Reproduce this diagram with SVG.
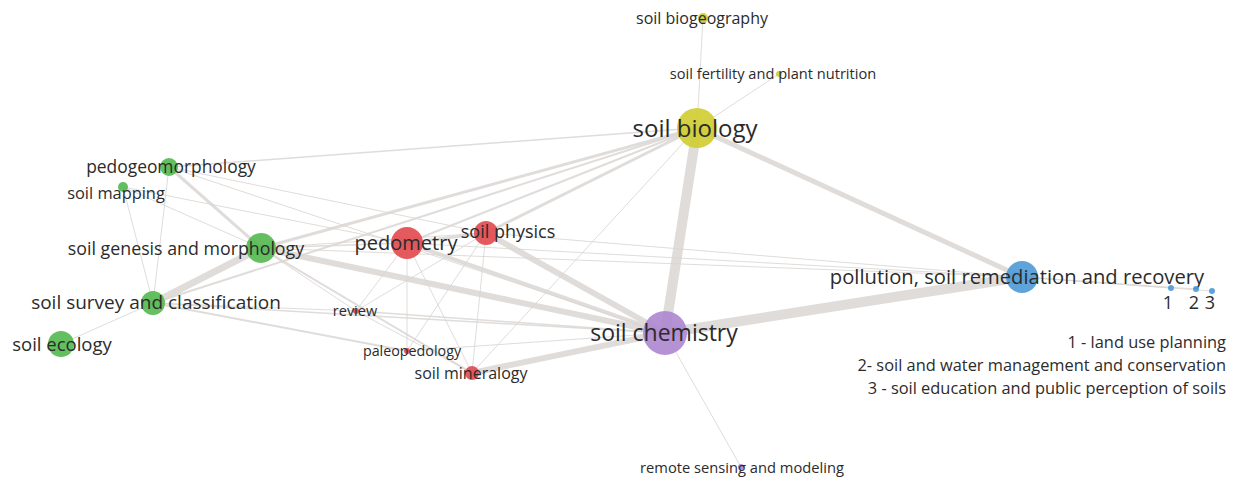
<svg xmlns="http://www.w3.org/2000/svg" width="1237" height="477" viewBox="0 0 1237 477">
<style>
text{font-family:"Open Sans","Liberation Sans",sans-serif;fill:#2b2b2b;text-anchor:middle}
.e{stroke:#d9d6d3;stroke-linecap:round;fill:none;stroke-opacity:0.85}
.g{fill:#52b84e}.r{fill:#e2484d}.y{fill:#cfcd2f}.p{fill:#ad86cf}.b{fill:#4d9ad6}
circle{fill-opacity:0.9}
.leg{text-anchor:end}
</style>
<rect width="1237" height="477" fill="#ffffff"/>
<g id="connectors">
<line class="e" x1="697" y1="128" x2="665" y2="333" stroke-width="10"/>
<line class="e" x1="665" y1="333" x2="1022" y2="277" stroke-width="10"/>
<line class="e" x1="697" y1="128" x2="1022" y2="277" stroke-width="5"/>
<line class="e" x1="261" y1="248" x2="153" y2="303" stroke-width="7"/>
<line class="e" x1="261" y1="248" x2="665" y2="333" stroke-width="6"/>
<line class="e" x1="407" y1="243" x2="665" y2="333" stroke-width="4"/>
<line class="e" x1="486" y1="233" x2="665" y2="333" stroke-width="6"/>
<line class="e" x1="472" y1="373" x2="665" y2="333" stroke-width="6"/>
<line class="e" x1="697" y1="128" x2="261" y2="248" stroke-width="3"/>
<line class="e" x1="697" y1="128" x2="407" y2="243" stroke-width="2"/>
<line class="e" x1="697" y1="128" x2="486" y2="233" stroke-width="3"/>
<line class="e" x1="697" y1="128" x2="153" y2="303" stroke-width="2"/>
<line class="e" x1="697" y1="128" x2="169" y2="167" stroke-width="1.5"/>
<line class="e" x1="697" y1="128" x2="472" y2="373" stroke-width="1"/>
<line class="e" x1="169" y1="167" x2="261" y2="248" stroke-width="3"/>
<line class="e" x1="261" y1="248" x2="472" y2="373" stroke-width="2"/>
<line class="e" x1="153" y1="303" x2="407" y2="351" stroke-width="2"/>
<line class="e" x1="153" y1="303" x2="665" y2="333" stroke-width="1.5"/>
<line class="e" x1="153" y1="303" x2="356" y2="311" stroke-width="1"/>
<line class="e" x1="61" y1="344" x2="153" y2="303" stroke-width="1"/>
<line class="e" x1="123" y1="187" x2="153" y2="303" stroke-width="1"/>
<line class="e" x1="169" y1="167" x2="153" y2="303" stroke-width="1"/>
<line class="e" x1="123" y1="187" x2="261" y2="248" stroke-width="1"/>
<line class="e" x1="123" y1="187" x2="407" y2="243" stroke-width="1"/>
<line class="e" x1="169" y1="167" x2="486" y2="233" stroke-width="1"/>
<line class="e" x1="169" y1="167" x2="665" y2="333" stroke-width="1"/>
<line class="e" x1="486" y1="233" x2="1022" y2="277" stroke-width="1"/>
<line class="e" x1="407" y1="243" x2="1022" y2="277" stroke-width="1"/>
<line class="e" x1="261" y1="248" x2="1022" y2="277" stroke-width="1"/>
<line class="e" x1="261" y1="248" x2="407" y2="243" stroke-width="1.5"/>
<line class="e" x1="261" y1="248" x2="486" y2="233" stroke-width="1"/>
<line class="e" x1="407" y1="243" x2="486" y2="233" stroke-width="3"/>
<line class="e" x1="407" y1="243" x2="356" y2="311" stroke-width="1"/>
<line class="e" x1="407" y1="243" x2="407" y2="351" stroke-width="1"/>
<line class="e" x1="407" y1="243" x2="472" y2="373" stroke-width="1"/>
<line class="e" x1="486" y1="233" x2="472" y2="373" stroke-width="1"/>
<line class="e" x1="486" y1="233" x2="407" y2="351" stroke-width="1"/>
<line class="e" x1="486" y1="233" x2="356" y2="311" stroke-width="1"/>
<line class="e" x1="356" y1="311" x2="665" y2="333" stroke-width="1.5"/>
<line class="e" x1="356" y1="311" x2="472" y2="373" stroke-width="1"/>
<line class="e" x1="407" y1="351" x2="665" y2="333" stroke-width="1"/>
<line class="e" x1="261" y1="248" x2="356" y2="311" stroke-width="1"/>
<line class="e" x1="703" y1="18" x2="697" y2="128" stroke-width="1"/>
<line class="e" x1="779" y1="74" x2="697" y2="128" stroke-width="1"/>
<line class="e" x1="665" y1="333" x2="741" y2="467" stroke-width="1"/>
<line class="e" x1="1022" y1="277" x2="1171" y2="288" stroke-width="1"/>
<line class="e" x1="1022" y1="277" x2="1196" y2="289" stroke-width="1"/>
<line class="e" x1="1022" y1="277" x2="1212" y2="291" stroke-width="1"/>
</g>
<g id="soil-biogeography"><circle class="y" cx="703" cy="18" r="5"/><text x="702" y="24" font-size="16">soil biogeography</text></g>
<g id="soil-fertility"><circle class="y" cx="779" cy="74" r="3"/><text x="773" y="79" font-size="14.6">soil fertility and plant nutrition</text></g>
<g id="soil-biology"><circle class="y" cx="697" cy="128" r="20"/><text x="695" y="137" font-size="24">soil biology</text></g>
<g id="pedogeomorphology"><circle class="g" cx="169" cy="167" r="9"/><text x="171" y="173" font-size="17.4">pedogeomorphology</text></g>
<g id="soil-mapping"><circle class="g" cx="123" cy="187" r="5"/><text x="116" y="199" font-size="16.4">soil mapping</text></g>
<g id="soil-genesis"><circle class="g" cx="261" cy="248" r="15"/><text x="186" y="255" font-size="17.8">soil genesis and morphology</text></g>
<g id="soil-survey"><circle class="g" cx="153" cy="303" r="12"/><text x="156" y="309" font-size="19">soil survey and classification</text></g>
<g id="soil-ecology"><circle class="g" cx="61" cy="344" r="13"/><text x="62" y="351" font-size="18.5">soil ecology</text></g>
<g id="pedometry"><circle class="r" cx="407" cy="243" r="16"/><text x="406" y="250" font-size="20">pedometry</text></g>
<g id="soil-physics"><circle class="r" cx="486" cy="233" r="12"/><text x="508" y="238" font-size="18">soil physics</text></g>
<g id="review"><circle class="r" cx="356" cy="311" r="3"/><text x="355" y="316" font-size="14.5">review</text></g>
<g id="paleopedology"><circle class="r" cx="407" cy="351" r="3"/><text x="412" y="356" font-size="14.3">paleopedology</text></g>
<g id="soil-mineralogy"><circle class="r" cx="472" cy="373" r="7"/><text x="471" y="379" font-size="16">soil mineralogy</text></g>
<g id="soil-chemistry"><circle class="p" cx="665" cy="333" r="22"/><text x="664" y="341" font-size="23">soil chemistry</text></g>
<g id="remote-sensing"><circle class="p" cx="741" cy="467" r="3"/><text x="742" y="473" font-size="14.7">remote sensing and modeling</text></g>
<g id="pollution"><circle class="b" cx="1022" cy="277" r="16"/><text x="1017" y="284" font-size="20.2">pollution, soil remediation and recovery</text></g>
<g id="node-1"><circle class="b" cx="1171" cy="288" r="3"/><text x="1168" y="309" font-size="18">1</text></g>
<g id="node-2"><circle class="b" cx="1196" cy="289" r="3"/><text x="1194" y="309" font-size="18">2</text></g>
<g id="node-3"><circle class="b" cx="1212" cy="291" r="3"/><text x="1210" y="309" font-size="18">3</text></g>
<g id="legend">
<text class="leg" x="1226" y="348" font-size="16.4">1 - land use planning</text>
<text class="leg" x="1226" y="371" font-size="16.4">2- soil and water management and conservation</text>
<text class="leg" x="1226" y="394" font-size="16.4">3 - soil education and public perception of soils</text>
</g>
</svg>
